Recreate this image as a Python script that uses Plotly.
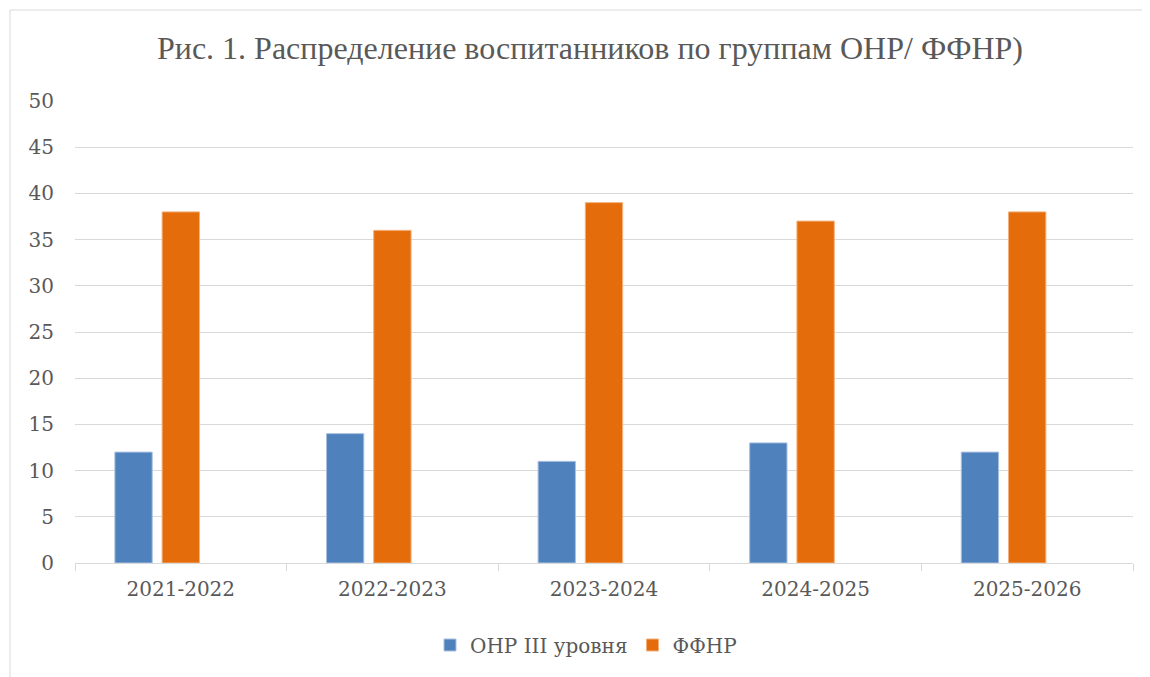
import plotly.graph_objects as go

categories = ["2021-2022", "2022-2023", "2023-2024", "2024-2025", "2025-2026"]
onr_values = [12, 14, 11, 13, 12]
ffnr_values = [38, 36, 39, 37, 38]
empty_values = [None, None, None, None, None]
series_names = ["ОНР III уровня", "ФФНР"]
title_text = "Рис. 1. Распределение воспитанников по группам ОНР/ ФФНР)"

# page body has an 8px margin, so figure origin sits at (8, 8) on screen
OFF = 8
W, H = 1150 - OFF, 677 - OFF
L, T = 75 - OFF, 101 - OFF
R = W - (1133 - OFF)
B = H - (563 - OFF)
pw, ph = W - L - R, H - T - B

def px_x(sx):
    return (sx - OFF - L) / pw

def px_y(sy):
    return ((563 - OFF) - (sy - OFF)) / ph

fig = go.Figure()
fig.add_trace(go.Bar(x=categories, y=onr_values, name=series_names[0],
                     marker=dict(color="#4f81bd", line=dict(color="#a9c1e0", width=1))))
fig.add_trace(go.Bar(x=categories, y=ffnr_values, name=series_names[1],
                     marker=dict(color="#e46c0a", line=dict(color="#f3b07a", width=1))))
fig.add_trace(go.Bar(x=categories, y=empty_values, name="", showlegend=False,
                     marker=dict(color="#a5a5a5")))

grey = "#595959"
border = dict(color="#d9d9d9", width=1)
fig.update_layout(
    width=W, height=H,
    margin=dict(l=L, r=R, t=T, b=B),
    paper_bgcolor="white", plot_bgcolor="white",
    barmode="group", bargap=0.33, bargroupgap=0.21,
    title=dict(text=title_text, x=px_x(590), xref="paper", xanchor="center",
               y=1 - (48 - OFF) / H, yanchor="middle",
               font=dict(family="Liberation Serif, Times New Roman, serif", size=32, color=grey)),
    legend=dict(orientation="h", x=px_x(586), xanchor="center",
                y=px_y(645), yanchor="middle",
                font=dict(family="DejaVu Serif", size=20, color=grey),
                itemwidth=30, tracegroupgap=0),
    showlegend=True,
    shapes=[
        dict(type="line", xref="paper", yref="paper",
             x0=px_x(10), x1=px_x(1148), y0=px_y(10), y1=px_y(10), line=border, layer="below"),
        dict(type="line", xref="paper", yref="paper",
             x0=px_x(10), x1=px_x(10), y0=px_y(10), y1=px_y(700), line=border, layer="below"),
    ],
)
fig.update_xaxes(
    showline=True, linecolor="#d9d9d9", linewidth=1,
    ticks="outside", tickson="boundaries", ticklen=7, tickcolor="#d9d9d9",
    tickfont=dict(family="DejaVu Serif", size=20, color=grey),
    ticklabelstandoff=8, showgrid=False,
)
fig.update_yaxes(
    range=[0, 50], dtick=5, showgrid=True, gridcolor="#d9d9d9", gridwidth=1,
    zeroline=False, showline=False, ticks="",
    tickfont=dict(family="DejaVu Serif", size=20, color=grey),
    ticklabelstandoff=20,
)

fig.write_html("out.html", config={"displayModeBar": False})
